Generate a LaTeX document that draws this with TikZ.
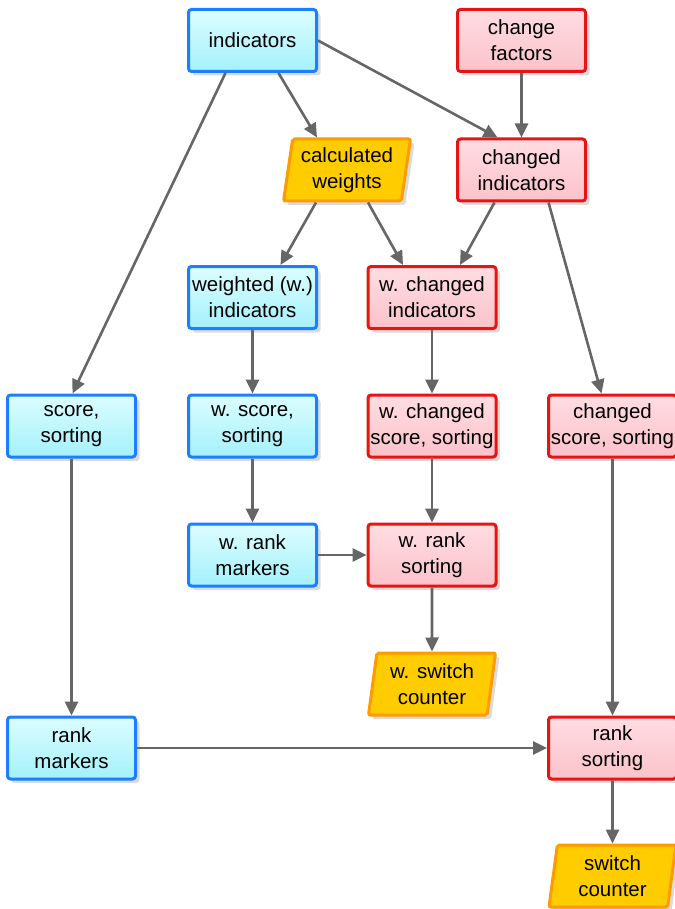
\documentclass[tikz,border=0pt]{standalone}
\usepackage{fontspec}
\setmainfont{Liberation Sans}
\usetikzlibrary{arrows.meta,shapes.geometric,shadows}
\definecolor{bluebd}{HTML}{1A80FF}
\definecolor{bluetop}{HTML}{DCFDFF}
\definecolor{bluebot}{HTML}{A4F1FB}
\definecolor{redbd}{HTML}{E81414}
\definecolor{redtop}{HTML}{FFDDE2}
\definecolor{redbot}{HTML}{FBC2CA}
\definecolor{yelfill}{HTML}{FFCC00}
\definecolor{yelbd}{HTML}{FF9A00}
\definecolor{arrowgray}{HTML}{666666}
\tikzset{
  basebox/.style={rectangle, rounded corners=3pt, line width=3pt, minimum width=128pt, minimum height=62pt,
     align=center, inner sep=1pt, font=\fontsize{20.5}{26}\selectfont,
     drop shadow={shadow xshift=4pt, shadow yshift=-4pt, fill=black!35, opacity=0.4}},
  bluebox/.style={basebox, draw=bluebd, top color=bluetop, bottom color=bluebot},
  redbox/.style={basebox, draw=redbd, top color=redtop, bottom color=redbot},
  yelbox/.style={trapezium, trapezium left angle=79, trapezium right angle=101, trapezium stretches body=true,
     rounded corners=2pt, line width=3pt, draw=yelbd, fill=yelfill, minimum width=127pt, minimum height=62pt,
     align=center, inner sep=1pt, font=\fontsize{20.5}{26}\selectfont,
     drop shadow={shadow xshift=4pt, shadow yshift=-4pt, fill=black!35, opacity=0.4}},
  conn/.style={draw=arrowgray, line width=2.6pt, -{Triangle[length=14pt,width=13pt]}}
}
\begin{document}
\begin{tikzpicture}[x=1pt,y=-1pt]
\useasboundingbox (0,0) rectangle (674,909);
\node[bluebox] (ind) at (252.5,40.5) {indicators};
\node[redbox] (cf) at (521.5,40.5) {change\\factors};
\node[yelbox] (cw) at (347,170) {calculated\\weights};
\node[redbox] (ci) at (521.5,170) {changed\\indicators};
\node[bluebox] (wi) at (252.5,297.5) {weighted (w.)\\indicators};
\node[redbox] (wci) at (432,297.5) {w. changed\\indicators};
\node[bluebox] (ss) at (71.5,426) {score,\\sorting};
\node[bluebox] (wss) at (252.5,426) {w. score,\\sorting};
\node[redbox] (wcss) at (432,426) {w. changed\\score, sorting};
\node[redbox] (css) at (612.5,426) {changed\\score, sorting};
\node[bluebox] (wrm) at (252.5,555) {w. rank\\markers};
\node[redbox] (wrs) at (432,555) {w. rank\\sorting};
\node[yelbox] (wsc) at (432,684) {w. switch\\counter};
\node[bluebox] (rm) at (71.5,748) {rank\\markers};
\node[redbox] (rs) at (612.5,748) {rank\\sorting};
\node[yelbox] (sc) at (612.5,876) {switch\\counter};

\draw[conn] ([xshift=26]ind.south) -- ([xshift=-30]cw.north);
\draw[conn] (ind.east) -- ([xshift=-24]ci.north);
\draw[conn] ([xshift=-27]ind.south) -- ([xshift=1]ss.north);
\draw[conn] (cf.south) -- (ci.north);
\draw[conn] ([xshift=-31]cw.south) -- ([xshift=28]wi.north);
\draw[conn] ([xshift=21]cw.south) -- ([xshift=-29]wci.north);
\draw[conn] ([xshift=-27]ci.south) -- ([xshift=28]wci.north);
\draw[conn] ([xshift=27]ci.south) -- ([xshift=-11]css.north);
\draw[conn] (wi.south) -- (wss.north);
\draw[conn] (wci.south) -- (wcss.north);
\draw[conn] (ss.south) -- (rm.north);
\draw[conn] (wss.south) -- (wrm.north);
\draw[conn] (wrm.east) -- (wrs.west);
\draw[conn] (wcss.south) -- (wrs.north);
\draw[conn] (wrs.south) -- (wsc.north);
\draw[conn] (css.south) -- (rs.north);
\draw[conn] (rm.east) -- (rs.west);
\draw[conn] (rs.south) -- (sc.north);
\end{tikzpicture}
\end{document}
